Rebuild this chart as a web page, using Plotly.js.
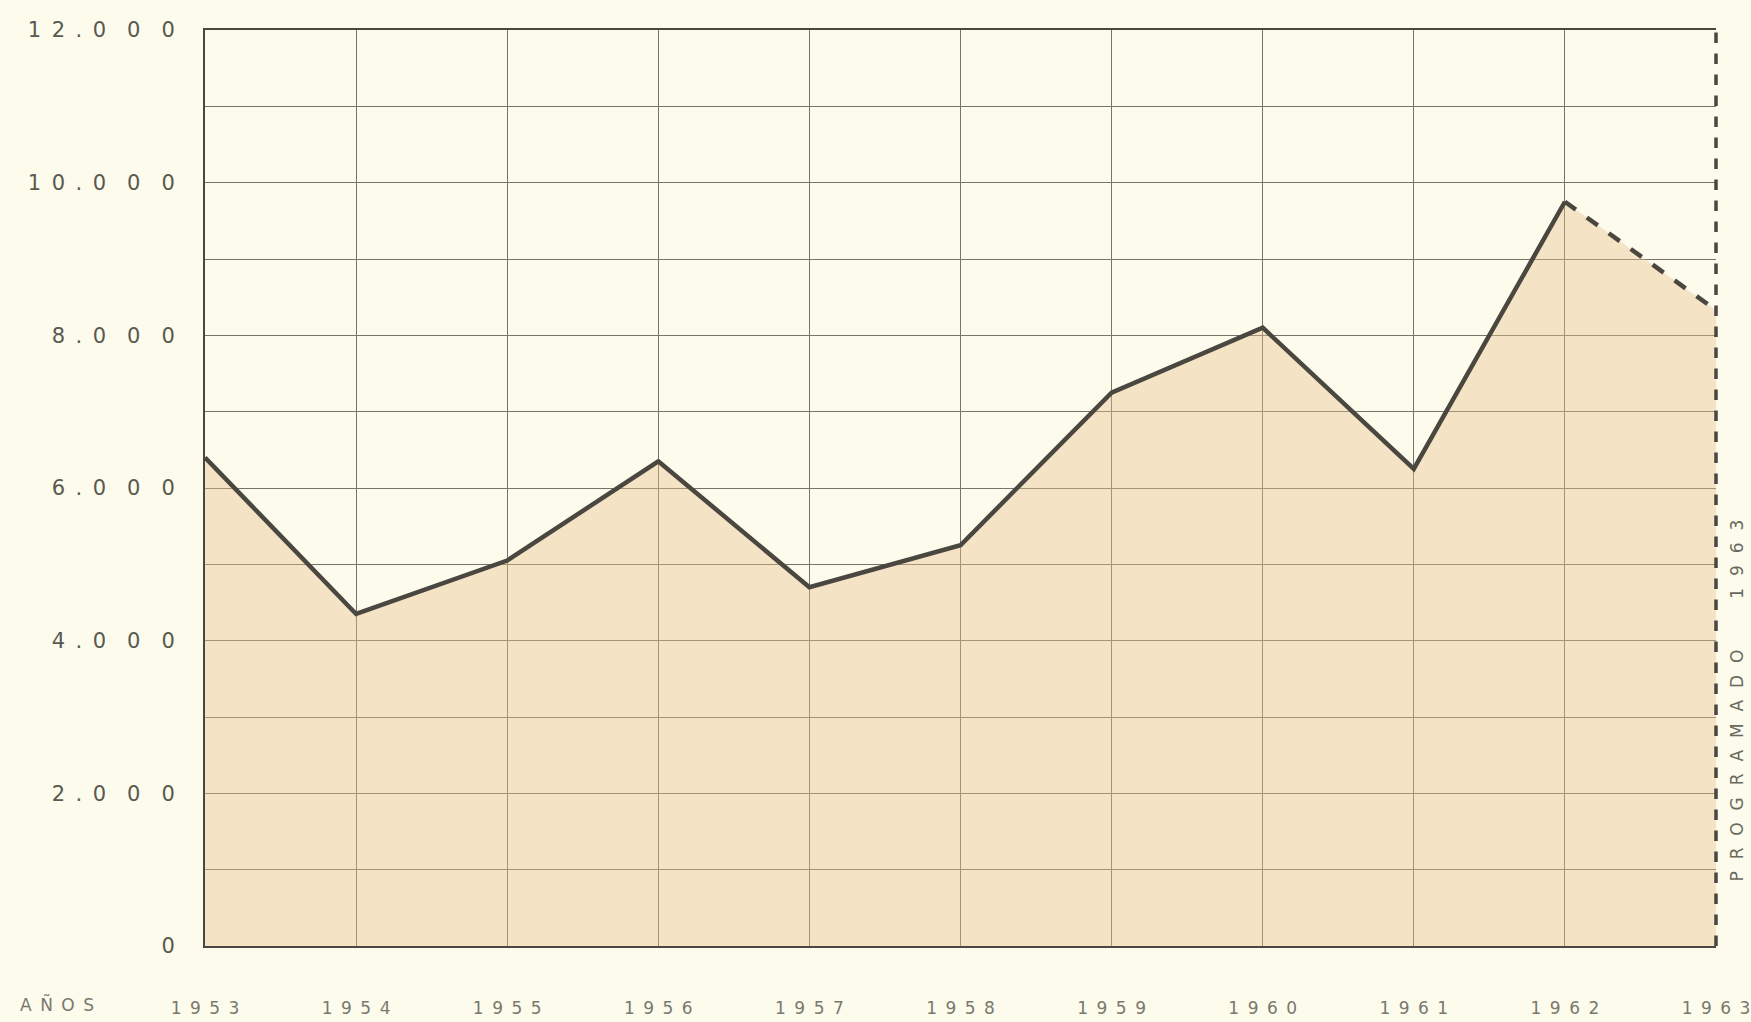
<!DOCTYPE html>
<html>
<head>
<meta charset="utf-8">
<script src="https://cdn.plot.ly/plotly-3.0.1.min.js"></script>
<style>
  html, body { margin: 0; padding: 0; background: #fcfbec; }
  #chart { width: 1751px; height: 1022px; }
</style>
</head>
<body>
<div id="chart"></div>
<script>
// ---- data ----
const years = [1953, 1954, 1955, 1956, 1957, 1958, 1959, 1960, 1961, 1962, 1963];
const values = [6400, 4350, 5050, 6350, 4700, 5250, 7250, 8100, 6250, 9750, 8330];
const actualYears = [1953, 1954, 1955, 1956, 1957, 1958, 1959, 1960, 1961, 1962];
const actualValues = [6400, 4350, 5050, 6350, 4700, 5250, 7250, 8100, 6250, 9750];
const programmedYears = [1962, 1963];
const programmedValues = [9750, 8330];

const xTickVals = [1953, 1954, 1955, 1956, 1957, 1958, 1959, 1960, 1961, 1962, 1963];
const xTickText = ["1\u20029\u20025\u20023", "1\u20029\u20025\u20024", "1\u20029\u20025\u20025", "1\u20029\u20025\u20026",
  "1\u20029\u20025\u20027", "1\u20029\u20025\u20028", "1\u20029\u20025\u20029", "1\u20029\u20026\u20020",
  "1\u20029\u20026\u20021", "1\u20029\u20026\u20022", "1\u20029\u20026\u20023"];
const yTickVals = [0, 1000, 2000, 3000, 4000, 5000, 6000, 7000, 8000, 9000, 10000, 11000, 12000];
const yTickText = ["0", "", "2\u2002.\u20020\u20030\u20030", "", "4\u2002.\u20020\u20030\u20030", "",
  "6\u2002.\u20020\u20030\u20030", "", "8\u2002.\u20020\u20030\u20030", "",
  "1\u20020\u2002.\u20020\u20030\u20030", "", "1\u20022\u2002.\u20020\u20030\u20030"];
const xAxisWord = "A\u2002Ñ\u2002O\u2002S";
const sideNote = "P\u2002\u2009R\u2002\u2009O\u2002\u2009G\u2002\u2009R\u2002\u2009A\u2002\u2009M\u2002\u2009A\u2002\u2009D\u2002\u2009O\u2003\u2003\u20031\u2002\u20099\u2002\u20096\u2002\u20093";

const ink = "#4a4640";
const grid = "#77736a";

const traces = [
  {
    x: years, y: values, type: "scatter", mode: "lines",
    fill: "tozeroy", fillcolor: "rgba(232, 196, 140, 0.40)",
    line: { width: 0, color: "rgba(0,0,0,0)" }, hoverinfo: "skip", showlegend: false
  },
  {
    x: actualYears, y: actualValues, type: "scatter", mode: "lines",
    line: { color: ink, width: 4.5 }, showlegend: false
  },
  {
    x: programmedYears, y: programmedValues, type: "scatter", mode: "lines",
    line: { color: ink, width: 4.5, dash: "dash" }, showlegend: false
  }
];

const layout = {
  width: 1751, height: 1022,
  paper_bgcolor: "#fcfbec", plot_bgcolor: "#fcfbec",
  margin: { l: 205, r: 35, t: 30, b: 76 },
  font: { family: "DejaVu Sans, sans-serif", color: "#5a5850" },
  xaxis: {
    range: [1953, 1963], tickvals: xTickVals, ticktext: xTickText,
    showgrid: true, gridcolor: grid, gridwidth: 1,
    zeroline: false, showline: true, linecolor: ink, linewidth: 2, mirror: true,
    ticks: "outside", ticklen: 46, tickcolor: "rgba(0,0,0,0)",
    tickfont: { size: 17, color: "#7a786e" }
  },
  yaxis: {
    range: [0, 12000], tickvals: yTickVals, ticktext: yTickText,
    showgrid: true, gridcolor: grid, gridwidth: 1,
    zeroline: false, showline: true, linecolor: ink, linewidth: 2,
    ticks: "outside", ticklen: 24, tickcolor: "rgba(0,0,0,0)",
    tickfont: { size: 21, color: "#5a5850" }
  },
  shapes: [
    { type: "line", xref: "paper", yref: "paper", x0: 1, x1: 1, y0: 0, y1: 1,
      line: { color: ink, width: 3.5, dash: "dash" } }
  ],
  annotations: [
    { text: xAxisWord, xref: "paper", yref: "paper", x: -0.124, y: 0, yshift: -58,
      xanchor: "left", yanchor: "middle", showarrow: false,
      font: { size: 17, color: "#7a786e" } },
    { text: sideNote, xref: "paper", yref: "paper", x: 1, xshift: 21, y: 0.268,
      xanchor: "center", yanchor: "middle", textangle: -90, showarrow: false,
      font: { size: 17, color: "#6a685e" } }
  ]
};

Plotly.newPlot("chart", traces, layout, { displayModeBar: false, staticPlot: true });
</script>
</body>
</html>
